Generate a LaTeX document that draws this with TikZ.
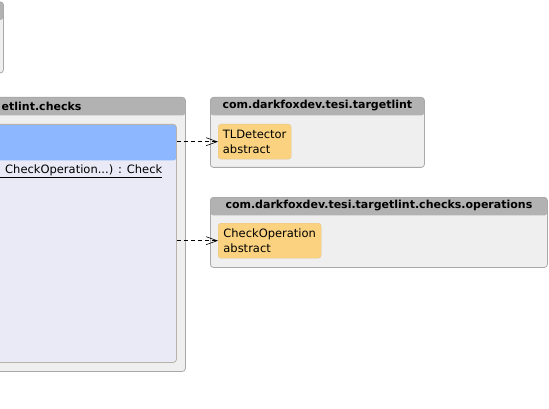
\documentclass[tikz,border=0pt]{standalone}
\usepackage{fontspec}
\setmainfont{DejaVu Sans}
\usetikzlibrary{arrows.meta}

\definecolor{pkghead}{HTML}{B2B2B2}
\definecolor{pkgfill}{HTML}{EFEFEF}
\definecolor{pkgline}{HTML}{A9A9A9}
\definecolor{clsblue}{HTML}{8DB7FF}
\definecolor{clsbody}{HTML}{E9EAF5}
\definecolor{clsline}{HTML}{B9B2A8}
\definecolor{absfill}{HTML}{FBD380}
\definecolor{absline}{HTML}{E3C48C}

\tikzset{
  package/.style={draw=pkgline, fill=pkgfill, rounded corners=3pt, anchor=north west,
    inner sep=0pt, line width=0.8pt,
    path picture={\fill[pkghead] (path picture bounding box.north west) rectangle
      ([yshift=-18pt]path picture bounding box.north east);}},
  pkgtitle/.style={font=\fontsize{11}{12}\selectfont\bfseries, inner sep=0pt},
  abstractcls/.style={draw=absline, fill=absfill, rounded corners=3pt, anchor=north west,
    align=left, inner xsep=2.5pt, inner ysep=2pt, font=\fontsize{11.5}{15}\selectfont},
  depends/.style={dashed, dash pattern=on 4pt off 3pt, line width=0.6pt,
    -{Straight Barb[length=11pt,width=8pt,line width=0.6pt]}}
}

\begin{document}
\begin{tikzpicture}[x=1pt, y=-1pt]
  \useasboundingbox (0,0) rectangle (549,409);

  % package cut off at the top left
  \node[package, minimum width=60pt, minimum height=71pt] (toppkg) at (-57,1.5) {};

  % package with the checks class
  \node[package, minimum width=215pt, minimum height=274pt] (chkpkg) at (-30,97) {};
  \node[pkgtitle, anchor=west] (chktitle) at (1.5,106) {etlint.checks};

  % checks class
  \node[draw=clsline, fill=clsbody, rounded corners=3pt, anchor=north west, inner sep=0pt,
    minimum width=196pt, minimum height=238pt, line width=0.8pt,
    path picture={\fill[clsblue] (path picture bounding box.north west) rectangle
      ([yshift=-36pt]path picture bounding box.north east);}] (chkcls) at (-20,124) {};
  \node[anchor=west, inner sep=0pt, font=\fontsize{11.5}{13}\selectfont] (chkop) at (0,171)
    {\underline{\hspace{5pt}CheckOperation...) : Check}};

  % com.darkfoxdev.tesi.targetlint
  \node[package, minimum width=214pt, minimum height=70pt] (tlpkg) at (210,97) {};
  \node[pkgtitle] (tltitle) at ([yshift=-9pt]tlpkg.north) {com.darkfoxdev.tesi.targetlint};
  \node[abstractcls, minimum width=73pt, minimum height=35pt] (tldet) at (218,124)
    {TLDetector\\abstract};

  % com.darkfoxdev.tesi.targetlint.checks.operations
  \node[package, minimum width=337pt, minimum height=70pt] (oppkg) at (210,197) {};
  \node[pkgtitle] (optitle) at ([yshift=-9pt]oppkg.north) {com.darkfoxdev.tesi.targetlint.checks.operations};
  \node[abstractcls, minimum width=103pt, minimum height=35pt] (chkoper) at (218,223)
    {CheckOperation\\abstract};

  % dependencies
  \draw[depends] (chkcls.east |- tldet.west) -- (tldet.west);
  \draw[depends] (chkcls.east |- chkoper.west) -- (chkoper.west);

\end{tikzpicture}
\end{document}
